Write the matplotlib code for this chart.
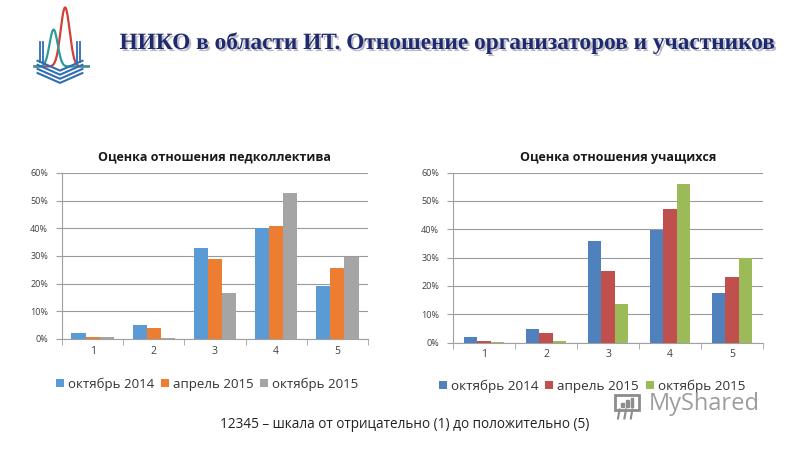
import matplotlib
matplotlib.use("Agg")
import matplotlib.pyplot as plt
import matplotlib.patheffects as pe
import numpy as np

# ---- data ----
categories = ["1", "2", "3", "4", "5"]
series_names = ["октябрь 2014", "апрель 2015", "октябрь 2015"]

staff_oct2014 = [2.0, 5.1, 32.9, 40.3, 19.2]
staff_apr2015 = [0.8, 4.1, 29.0, 40.9, 25.6]
staff_oct2015 = [0.8, 0.4, 16.5, 52.8, 29.8]

stud_oct2014 = [2.1, 4.9, 35.9, 39.7, 17.4]
stud_apr2015 = [0.6, 3.3, 25.2, 47.2, 23.2]
stud_oct2015 = [0.2, 0.6, 13.6, 55.9, 29.7]

yticks = [0, 10, 20, 30, 40, 50, 60]
ytick_labels = ["0%", "10%", "20%", "30%", "40%", "50%", "60%"]

header = "НИКО в области ИТ. Отношение организаторов и участников"
title_left = "Оценка отношения педколлектива"
title_right = "Оценка отношения учащихся"
footnote = "12345 – шкала от отрицательно (1) до положительно (5)"

colors_left = ["#5B9BD5", "#ED7D31", "#A5A5A5"]
colors_right = ["#4F81BD", "#C0504D", "#9BBB59"]

FONT = ["Open Sans", "DejaVu Sans"]
plt.rcParams["font.family"] = FONT

W, H = 800, 450
fig = plt.figure(figsize=(8, 4.5), dpi=100)
fig.patch.set_facecolor("white")


def px_axes(x0, y0, x1, y1):
    return fig.add_axes([x0 / W, 1 - y1 / H, (x1 - x0) / W, (y1 - y0) / H])


def draw_chart(ax, data, colors, bw):
    x = np.arange(len(categories))
    for i, (vals, c, name) in enumerate(zip(data, colors, series_names)):
        ax.bar(x + (i - 1) * bw, vals, width=bw, color=c, label=name, zorder=3)
    ax.set_xlim(-0.5, len(categories) - 0.5)
    ax.set_ylim(0, 60)
    ax.set_yticks(yticks)
    ax.set_yticklabels(ytick_labels, fontsize=6.5, color="#404040")
    ax.set_xticks(x)
    ax.set_xticklabels(categories, fontsize=7.5, color="#404040")
    ax.tick_params(axis="x", which="major", length=0, pad=5)
    ax.set_xticks(np.arange(-0.5, len(categories)), minor=True)
    ax.tick_params(axis="x", which="minor", length=4, color="#A0A0A0", direction="out")
    ax.tick_params(axis="y", length=4, color="#A0A0A0", direction="out", pad=6)
    ax.yaxis.grid(True, color="#9A9A9A", linewidth=0.8, zorder=0)
    for s in ["top", "right"]:
        ax.spines[s].set_visible(False)
    for s in ["left", "bottom"]:
        ax.spines[s].set_color("#A0A0A0")
        ax.spines[s].set_linewidth(0.8)
    ax.set_axisbelow(True)


axL = px_axes(62, 173, 368, 339)
draw_chart(axL, [staff_oct2014, staff_apr2015, staff_oct2015], colors_left, 0.23)
axR = px_axes(453, 172.5, 763, 342.5)
draw_chart(axR, [stud_oct2014, stud_apr2015, stud_oct2015], colors_right, 0.215)

fig.text(215 / W, 1 - 157 / H, title_left, ha="center", va="center",
         fontsize=9, fontweight="bold", color="#1a1a1a")
fig.text(618 / W, 1 - 157 / H, title_right, ha="center", va="center",
         fontsize=9, fontweight="bold", color="#1a1a1a")

leg_kw = dict(loc="center", ncol=3, frameon=False,
              handlelength=0.6, handleheight=0.6, handletextpad=0.3,
              columnspacing=0.5, borderaxespad=0)
legL = axL.legend(bbox_to_anchor=(207 / W, 1 - 384 / H),
                  bbox_transform=fig.transFigure, fontsize=9.5, **leg_kw)
legR = axR.legend(bbox_to_anchor=(592 / W, 1 - 386 / H),
                  bbox_transform=fig.transFigure, fontsize=9.7, **leg_kw)
for leg in (legL, legR):
    for t in leg.get_texts():
        t.set_color("#333333")

fig.text(405 / W, 1 - 425 / H, footnote, ha="center", va="center",
         fontsize=9.8, color="#222222")

# header
fig.text(448 / W, 1 - 43 / H, header, ha="center", va="center",
         fontsize=16.8, fontweight="bold", color="#1F2A6E",
         family=["Liberation Serif", "DejaVu Serif"],
         path_effects=[pe.withSimplePatchShadow(offset=(1.5, -1.5),
                                                shadow_rgbFace="#9090A0",
                                                alpha=0.6)])

# watermark
fig.text(704 / W, 1 - 404 / H, "MyShared", ha="center", va="center",
         fontsize=17, color="#8C8C8C", alpha=0.85)
wax = px_axes(610, 390, 642, 420)
wax.set_xlim(0, 1)
wax.set_ylim(0, 1)
wax.axis("off")
wax.add_patch(plt.Rectangle((0.15, 0.35), 0.75, 0.5, fill=False,
                            edgecolor="#8C8C8C", lw=2))
for bx, bh in ((0.35, 0.12), (0.5, 0.22), (0.65, 0.3)):
    wax.add_patch(plt.Rectangle((bx, 0.45), 0.08, bh, color="#8C8C8C"))
for lx in (0.3, 0.5, 0.7):
    wax.plot([lx, lx - 0.05], [0.35, 0.05], color="#8C8C8C", lw=1.5)

# simple logo
lax = px_axes(28, 5, 92, 87)
lax.set_xlim(0, 1)
lax.set_ylim(0, 1)
lax.axis("off")
t = np.linspace(0.1, 0.95, 200)
lax.plot(t, 0.25 + 0.72 * np.exp(-((t - 0.58) / 0.1) ** 2), color="#D0413A", lw=1.6)
lax.plot(t, 0.25 + 0.45 * np.exp(-((t - 0.4) / 0.09) ** 2), color="#2E9A9A", lw=1.6)
for k in range(4):
    y = 0.05 + k * 0.05
    lax.plot([0.15, 0.5, 0.85], [y + 0.12, y, y + 0.12], color="#2E6DB4", lw=1.5)
for xv in (0.18, 0.24, 0.76, 0.82):
    lax.plot([xv, xv], [0.3, 0.55], color="#2E6DB4", lw=1.3)

fig.savefig("out.png", dpi=100, facecolor="white")
